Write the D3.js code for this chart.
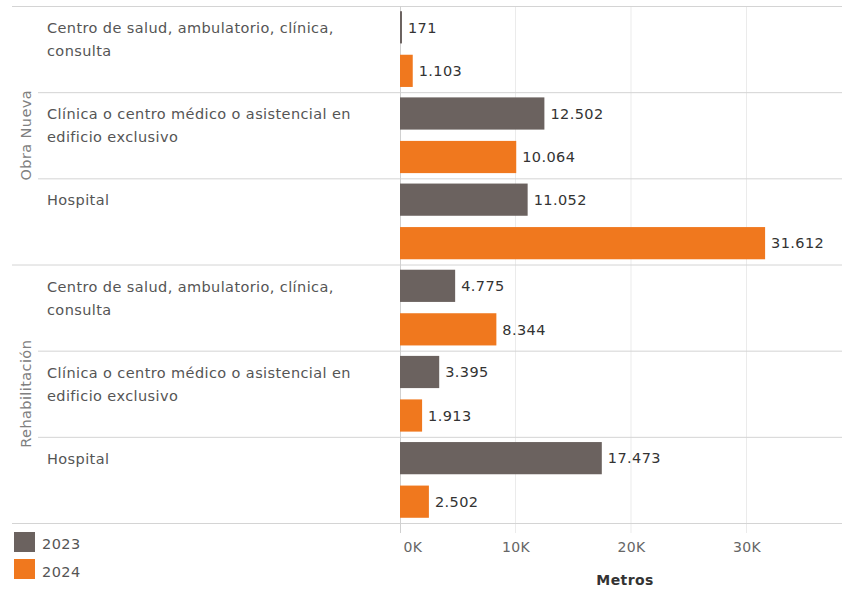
<!DOCTYPE html>
<html><head><meta charset="utf-8">
<script src="https://cdn.jsdelivr.net/npm/d3@7"></script>
<style>body{margin:0;background:#fff}svg{display:block}text{font-family:"DejaVu Sans",sans-serif;letter-spacing:0.4px}</style>
</head><body><div id="chart"></div>
<script>
const groups = ["Obra Nueva", "Rehabilitación"];
const subcats = ["Centro de salud, ambulatorio, clínica, consulta", "Clínica o centro médico o asistencial en edificio exclusivo", "Hospital"];
const years = ["2023", "2024"];
const v2023 = [171, 12502, 11052, 4775, 3395, 17473];
const v2024 = [1103, 10064, 31612, 8344, 1913, 2502];
const xTicks = [0, 10000, 20000, 30000];
const colors = ["#6b625f", "#f0781e"];

(function () {
const W = 842, H = 591;
const FS = 14.5;
const svg = d3.select("#chart").append("svg").attr("width", W).attr("height", H);

const rows = [];
groups.forEach((g, gi) => subcats.forEach((s, si) => rows.push({g, s, key: g + "|" + s, i: gi * 3 + si})));

const plotTop = 6, plotBottom = 523;
const y = d3.scaleBand().domain(rows.map(r => r.key)).range([plotTop, plotBottom]);
const yIn = d3.scaleBand().domain(years).range([0, y.bandwidth()]).paddingInner(0.26).paddingOuter(0.12);
const x = d3.scaleLinear().domain([0, 38270]).range([400, 842]);
const loc = d3.formatLocale({decimal: ",", thousands: ".", grouping: [3], currency: ["", "€"]});
const fmt = loc.format(",d");

svg.append("g").selectAll("line").data(xTicks.slice(1)).join("line")
  .attr("x1", d => x(d)).attr("x2", d => x(d)).attr("y1", plotTop).attr("y2", plotBottom + 10)
  .attr("stroke", "#ebebeb");
rows.forEach((r, i) => {
  if (i === 0) return;
  const isGroup = i % 3 === 0;
  svg.append("line").attr("x1", isGroup ? 12 : 38).attr("x2", W)
    .attr("y1", y(r.key) + 0.5).attr("y2", y(r.key) + 0.5).attr("stroke", "#d4d4d4");
});
svg.append("line").attr("x1", 12).attr("x2", W).attr("y1", plotTop + 0.5).attr("y2", plotTop + 0.5).attr("stroke", "#d4d4d4");
svg.append("line").attr("x1", 12).attr("x2", W).attr("y1", plotBottom + 0.5).attr("y2", plotBottom + 0.5).attr("stroke", "#d4d4d4");
svg.append("line").attr("x1", x(0) + 0.5).attr("x2", x(0) + 0.5).attr("y1", plotTop).attr("y2", plotBottom + 10).attr("stroke", "#d0d0d0");

const series = [v2023, v2024];
years.forEach((yr, k) => {
  const g = svg.append("g");
  g.selectAll("rect").data(rows).join("rect")
    .attr("x", x(0)).attr("y", r => y(r.key) + yIn(yr))
    .attr("width", r => Math.max(1.5, x(series[k][r.i]) - x(0)))
    .attr("height", yIn.bandwidth()).attr("fill", colors[k]);
  g.selectAll("text").data(rows).join("text")
    .attr("x", r => Math.max(x(0) + 1.5, x(series[k][r.i])) + 6)
    .attr("y", r => y(r.key) + yIn(yr) + yIn.bandwidth() / 2)
    .attr("dy", "0.36em").attr("font-size", FS).attr("fill", "#333")
    .text(r => fmt(series[k][r.i]));
});

function wrapLines(str, maxW, size) {
  const words = str.split(" ");
  const tmp = svg.append("text").attr("font-size", size);
  const lines = []; let cur = "";
  words.forEach(w => {
    const t = cur ? cur + " " + w : w;
    tmp.text(t);
    if (tmp.node().getComputedTextLength() > maxW && cur) { lines.push(cur); cur = w; } else cur = t;
  });
  if (cur) lines.push(cur);
  tmp.remove();
  return lines;
}
rows.forEach(r => {
  const lines = wrapLines(r.s, 325, FS);
  const t = svg.append("text").attr("font-size", FS).attr("fill", "#555");
  lines.forEach((l, li) => t.append("tspan").attr("x", 47).attr("y", y(r.key) + 27 + li * 23).text(l));
});

groups.forEach((gname, gi) => {
  const y0 = y(rows[gi * 3].key), y1 = y(rows[gi * 3 + 2].key) + y.bandwidth();
  const cy = (y0 + y1) / 2;
  svg.append("text").attr("transform", `translate(31,${cy}) rotate(-90)`)
    .attr("text-anchor", "middle").attr("font-size", FS).attr("fill", "#808080").text(gname);
});

const ax = svg.append("g").attr("transform", `translate(0,${plotBottom})`)
  .call(d3.axisBottom(x).tickValues(xTicks).tickSize(0).tickPadding(19).tickFormat(d => (d / 1000) + "K"));
ax.select(".domain").remove();
ax.selectAll("text").attr("font-size", 14).attr("fill", "#666").attr("font-family", "DejaVu Sans, sans-serif");
ax.selectAll(".tick").filter(d => d === 0).select("text").attr("text-anchor", "start").attr("x", 3);
svg.append("text").attr("x", 625).attr("y", 585).attr("text-anchor", "middle")
  .attr("font-size", 14).attr("font-weight", "bold").attr("fill", "#333").text("Metros");

years.forEach((yr, k) => {
  svg.append("rect").attr("x", 14).attr("y", 532 + k * 27).attr("width", 21).attr("height", 20).attr("fill", colors[k]);
  svg.append("text").attr("x", 42).attr("y", 544 + k * 28).attr("dy", "0.36em").attr("font-size", FS).attr("fill", "#555").text(yr);
});
})();
</script></body></html>
